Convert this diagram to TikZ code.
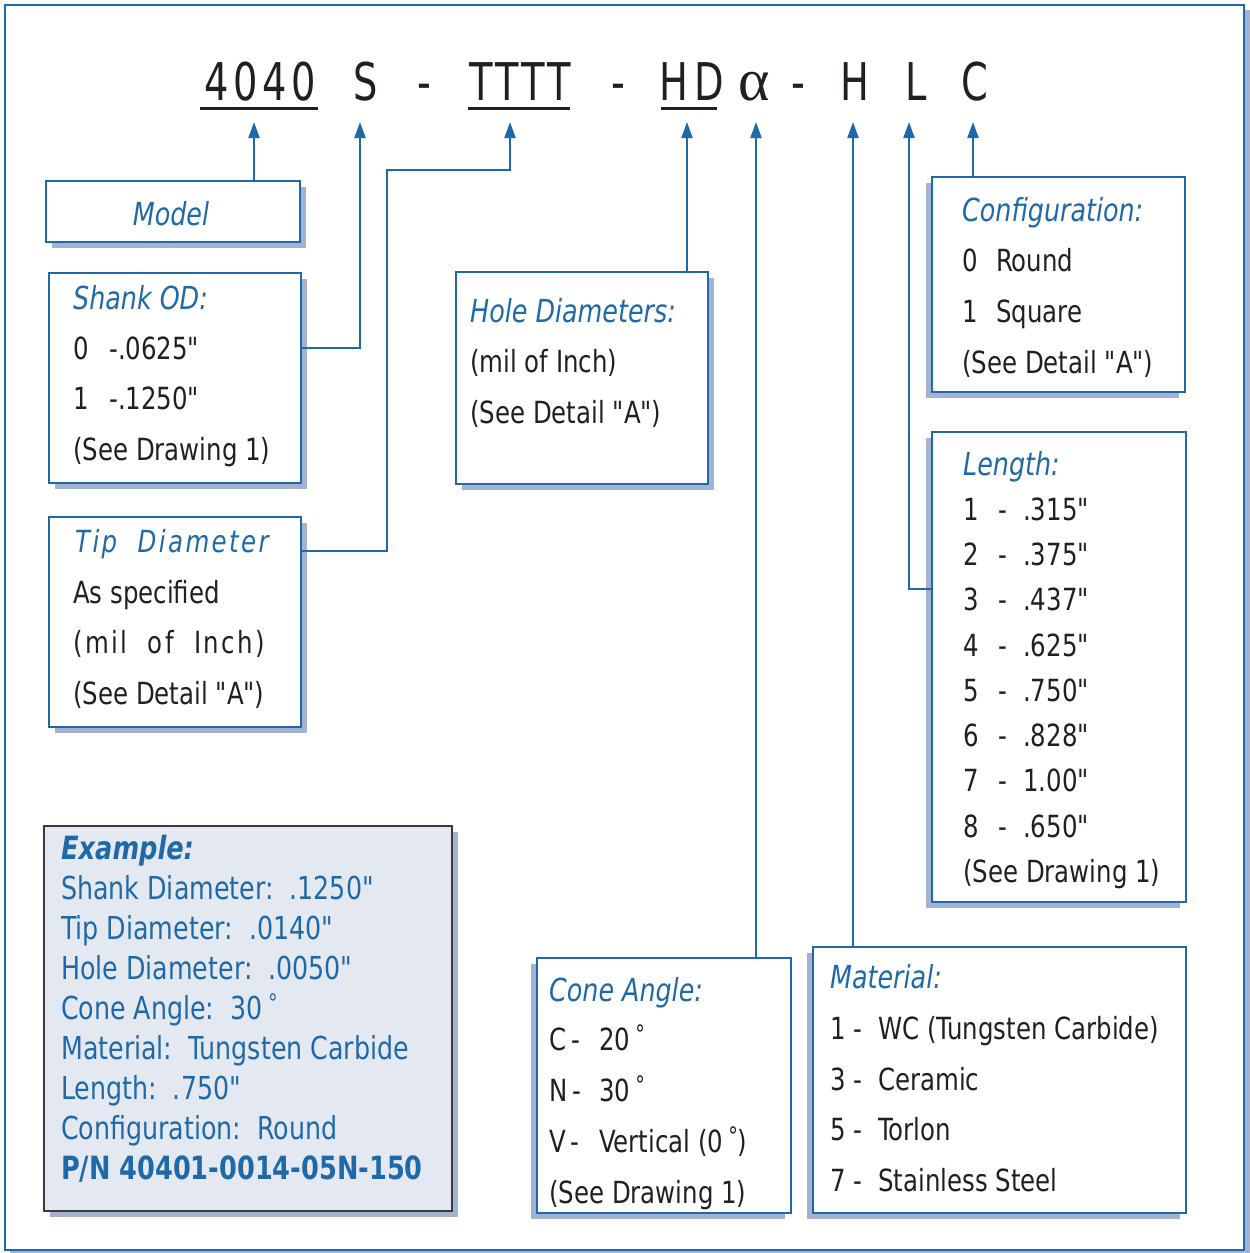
\documentclass[tikz,border=0pt]{standalone}
\usepackage{fontspec}
\setmainfont{DejaVu Sans Condensed}[Ligatures=TeXOff, FakeStretch=0.89]
\newfontfamily\titlefont{DejaVu Sans Condensed}[Ligatures=TeXOff, FakeStretch=0.82]
\newfontfamily\alphafont{Liberation Serif}
\usetikzlibrary{arrows.meta,shadows}
\definecolor{bl}{HTML}{1F69A8}
\definecolor{shd}{HTML}{A2B2D0}
\definecolor{txt}{HTML}{231F20}
\definecolor{exfill}{HTML}{E4E9F1}
\definecolor{exedge}{HTML}{3A3A3A}
\newcommand\dg{\,\raisebox{8pt}{\fontsize{24}{24}\selectfont °}}
\newcommand\wide{\addfontfeature{LetterSpace=8}}
\begin{document}
\begin{tikzpicture}[x=1pt,y=-1pt,
  box/.style={draw=bl, line width=2pt, fill=white, inner sep=0pt, outer sep=0pt},
  shr/.style={general shadow={shadow xshift=6pt, shadow yshift=-6pt, fill=shd}},
  shl/.style={general shadow={shadow xshift=-6pt, shadow yshift=-6pt, fill=shd}},
  exbox/.style={draw=exedge, line width=2pt, fill=exfill, inner sep=0pt, outer sep=0pt},
  body/.style={anchor=base west, inner sep=0pt, text=txt, font=\fontsize{30.5}{36}\selectfont},
  head/.style={anchor=base west, inner sep=0pt, text=bl, font=\fontsize{31.7}{36}\selectfont\itshape},
  ex/.style={anchor=base west, inner sep=0pt, text=bl, font=\fontsize{31.6}{38}\selectfont},
  ttl/.style={anchor=base, inner sep=0pt, text=txt, font=\fontsize{52}{60}\selectfont\titlefont},
  arr/.style={draw=bl, line width=2pt, -{Triangle[width=11pt,length=16pt]}},
  uline/.style={draw=txt, line width=3pt}
]
\useasboundingbox (0,0) rectangle (1250,1253);
% outer frame with shadow
\fill[shd] (10,10) rectangle (1250,1255);
\draw[bl, line width=2pt, fill=white] (5,5) rectangle (1244,1250);

% title
\node[ttl] (c1) at (217,100) {4};
\node[ttl] (c2) at (246,100) {0};
\node[ttl] (c3) at (275,100) {4};
\node[ttl] (c4) at (304,100) {0};
\node[ttl] (cS) at (366,100) {S};
\node[ttl] (d1) at (424,100) {-};
\node[ttl] (t1) at (481,100) {T};
\node[ttl] (t2) at (507,100) {T};
\node[ttl] (t3) at (533,100) {T};
\node[ttl] (t4) at (559,100) {T};
\node[ttl] (d2) at (618,100) {-};
\node[ttl] (h1) at (674,100) {H};
\node[ttl] (h2) at (709,100) {D};
\node[ttl, font=\fontsize{60}{60}\selectfont\alphafont] (al) at (754,100) {α};
\node[ttl] (d3) at (798,100) {-};
\node[ttl] (cH) at (855,100) {H};
\node[ttl] (cL) at (916,100) {L};
\node[ttl] (cC) at (975,100) {C};
\coordinate (u1a) at (200,108); \coordinate (u1b) at (318,108);
\coordinate (u2a) at (468,108); \coordinate (u2b) at (570,108);
\coordinate (u3a) at (661,108); \coordinate (u3b) at (717,108);
\draw[uline] (u1a) -- (u1b);
\draw[uline] (u2a) -- (u2b);
\draw[uline] (u3a) -- (u3b);

% arrow tips
\coordinate (aM) at (254,122);
\coordinate (aS) at (360,122);
\coordinate (aT) at (510,122);
\coordinate (aH) at (687,122);
\coordinate (aA) at (756,122);
\coordinate (aMa) at (853,122);
\coordinate (aL) at (909,122);
\coordinate (aC) at (973,122);

% boxes
\node[box, shr, minimum width=254pt, minimum height=61pt] (model) at (173,211.5) {};
\node[box, shr, minimum width=252pt, minimum height=210pt] (shank) at (175,378) {};
\node[box, shr, minimum width=252pt, minimum height=210pt] (tip) at (175,622) {};
\node[box, shr, minimum width=252pt, minimum height=212pt] (hole) at (582,378) {};
\node[box, shl, minimum width=253pt, minimum height=215pt] (config) at (1058.5,284.5) {};
\node[box, shl, minimum width=254pt, minimum height=470pt] (length) at (1059,667) {};
\node[box, shl, minimum width=254pt, minimum height=255pt] (cone) at (664,1085.5) {};
\node[box, shl, minimum width=373pt, minimum height=266pt] (mat) at (999.5,1080) {};
\node[exbox, shr, minimum width=408pt, minimum height=385pt] (example) at (248,1018.5) {};

% connectors
\coordinate (k1) at (360,348);
\coordinate (k2) at (387,551);
\coordinate (k3) at (387,170);
\coordinate (k4) at (510,170);
\coordinate (k5) at (909,589);
\draw[arr] (model.north -| aM) -- (aM);
\draw[arr] (shank.east |- k1) -- (k1) -- (aS);
\draw[arr] (tip.east |- k2) -- (k2) -- (k3) -- (k4) -- (aT);
\draw[arr] (hole.north -| aH) -- (aH);
\draw[arr] (cone.north -| aA) -- (aA);
\draw[arr] (mat.north -| aMa) -- (aMa);
\draw[arr] (length.west |- k5) -- (k5) -- (aL);
\draw[arr] (config.north -| aC) -- (aC);

% Model
\node[anchor=center, inner sep=0pt, text=bl, font=\fontsize{31.7}{36}\selectfont\itshape] (mt) at (171,214) {Model};

% Shank OD
\node[head] (s0) at (73,309) {Shank OD:};
\node[body] (s1) at (73,359) {0};
\node[body] (s1b) at (109,359) {-.0625"};
\node[body] (s2) at (73,409) {1};
\node[body] (s2b) at (109,409) {-.1250"};
\node[body] (s3) at (73,460) {(See Drawing 1)};

% Tip Diameter
\node[head, font=\fontsize{30.5}{36}\selectfont\itshape\wide] (p0) at (75,552) {Tip\ \ Diameter};
\node[body] (p1) at (73,603) {As specified};
\node[body, font=\fontsize{30.5}{36}\selectfont\wide] (p2) at (73,653) {(mil\ \ of\ \ Inch)};
\node[body] (p3) at (73,704) {(See Detail "A")};

% Hole Diameters
\node[head] (h0) at (470,322) {Hole Diameters:};
\node[body] (hl1) at (470,372) {(mil of Inch)};
\node[body] (hl2) at (470,423) {(See Detail "A")};

% Configuration
\node[head] (g0) at (962,221) {Configuration:};
\node[body] (g1) at (962,271) {0};
\node[body] (g1b) at (996,271) {Round};
\node[body] (g2) at (962,322) {1};
\node[body] (g2b) at (996,322) {Square};
\node[body] (g3) at (962,373) {(See Detail "A")};

% Length
\node[head] (l0) at (963,475) {Length:};
\foreach \n/\v/\y in {1/.315"/520, 2/.375"/565, 3/.437"/610, 4/.625"/656, 5/.750"/701, 6/.828"/746, 7/1.00"/791, 8/.650"/837}{
  \node[body] (ln\n) at (963,\y) {\n};
  \node[body] (ld\n) at (998,\y) {-};
  \node[body] (lv\n) at (1023,\y) {\v};
}
\node[body] (l9) at (963,882) {(See Drawing 1)};

% Cone Angle
\node[head] (a0) at (549,1001) {Cone Angle:};
\node[body] (a1) at (549,1050) {C\,-};
\node[body] (a1b) at (599,1050) {20\dg};
\node[body] (a2) at (549,1101) {N\,-};
\node[body] (a2b) at (599,1101) {30\dg};
\node[body] (a3) at (549,1152) {V\,-};
\node[body] (a3b) at (599,1152) {Vertical (0\dg)};
\node[body] (a4) at (549,1203) {(See Drawing 1)};

% Material
\node[head] (m0) at (830,988) {Material:};
\node[body] (m1) at (830,1039) {1 -};
\node[body] (m1b) at (878,1039) {WC (Tungsten Carbide)};
\node[body] (m2) at (830,1090) {3 -};
\node[body] (m2b) at (878,1090) {Ceramic};
\node[body] (m3) at (830,1140) {5 -};
\node[body] (m3b) at (878,1140) {Torlon};
\node[body] (m4) at (830,1191) {7 -};
\node[body] (m4b) at (878,1191) {Stainless Steel};

% Example
\node[ex, font=\fontsize{32}{38}\selectfont\bfseries\itshape] (e0) at (61,859) {Example:};
\node[ex] (e1) at (61,899) {Shank Diameter:\ \ .1250"};
\node[ex] (e2) at (61,939) {Tip Diameter:\ \ .0140"};
\node[ex] (e3) at (61,979) {Hole Diameter:\ \ .0050"};
\node[ex] (e4) at (61,1019) {Cone Angle:\ \ 30\dg};
\node[ex] (e5) at (61,1059) {Material:\ \ Tungsten Carbide};
\node[ex] (e6) at (61,1099) {Length:\ \ .750"};
\node[ex] (e7) at (61,1139) {Configuration:\ \ Round};
\node[ex, font=\fontsize{32}{38}\selectfont\bfseries] (e8) at (61,1179) {P/N 40401-0014-05N-150};
\end{tikzpicture}
\end{document}
